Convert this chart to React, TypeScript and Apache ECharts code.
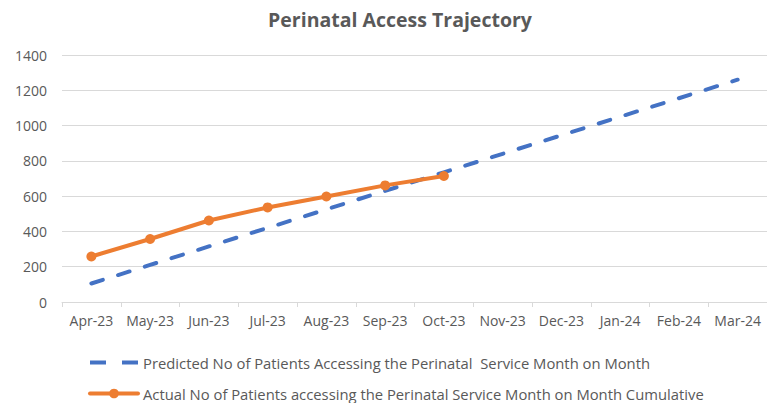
import React, { useEffect, useRef } from "react";
import * as echarts from "echarts";

const categories = ["Apr-23", "May-23", "Jun-23", "Jul-23", "Aug-23", "Sep-23", "Oct-23", "Nov-23", "Dec-23", "Jan-24", "Feb-24", "Mar-24"];
const predicted = [105, 210, 315, 420, 525, 630, 735, 840, 945, 1050, 1155, 1260];
const actual = [258, 357, 462, 536, 598, 661, 714];
const predictedName = "Predicted No of Patients Accessing the Perinatal  Service Month on Month";
const actualName = "Actual No of Patients accessing the Perinatal Service Month on Month Cumulative";
const yTicks = { min: 0, max: 1400, interval: 200 };

export default function App() {
  const ref = useRef<HTMLDivElement>(null);
  useEffect(() => {
    if (!ref.current) return;
    const chart = echarts.init(ref.current, null, { renderer: "svg" });
    const font = "Open Sans";
    const legendBase = {
      left: 88,
      padding: 0,
      itemWidth: 48,
      itemHeight: 12,
      textStyle: { fontFamily: font, fontSize: 14.8, color: "#595959" },
    };
    chart.setOption({
      animation: false,
      backgroundColor: "#ffffff",
      title: {
        text: "Perinatal Access Trajectory",
        left: 395,
        textAlign: "center",
        top: 4,
        textStyle: { fontFamily: font, fontSize: 19.5, fontWeight: "bold", color: "#595959" },
      },
      grid: { left: 62, right: 0, top: 55, bottom: 101 },
      xAxis: {
        type: "category",
        data: categories,
        boundaryGap: true,
        axisLine: { lineStyle: { color: "#d9d9d9", width: 1 } },
        axisTick: { show: true, length: 5, lineStyle: { color: "#d9d9d9" } },
        axisLabel: { fontFamily: font, fontSize: 14, color: "#595959", margin: 11, interval: 0 },
      },
      yAxis: {
        type: "value",
        min: yTicks.min,
        max: yTicks.max,
        interval: yTicks.interval,
        axisLine: { show: false },
        axisTick: { show: false },
        splitLine: { lineStyle: { color: "#d9d9d9", width: 1 } },
        axisLabel: {
          fontFamily: font,
          fontSize: 14,
          color: "#595959",
          margin: 15,
          formatter: (v: number) => String(v),
        },
      },
      legend: [
        {
          ...legendBase,
          top: 355,
          lineStyle: { width: 4, type: [16, 16], cap: "butt" },
          data: [{ name: predictedName, itemStyle: { opacity: 0 } }],
        },
        {
          ...legendBase,
          top: 386,
          lineStyle: { width: 4, cap: "round" },
          data: [actualName],
        },
      ],
      series: [
        {
          name: predictedName,
          type: "line",
          data: predicted,
          symbol: "none",
          lineStyle: { color: "#4472C4", width: 4, type: [12, 16], cap: "round" },
          itemStyle: { color: "#4472C4" },
        },
        {
          name: actualName,
          type: "line",
          data: actual,
          symbol: "circle",
          symbolSize: 10,
          lineStyle: { color: "#ED7D31", width: 4, cap: "round" },
          itemStyle: { color: "#ED7D31" },
        },
      ],
    });
    return () => chart.dispose();
  }, []);
  return <div ref={ref} style={{ position: "absolute", left: 0, top: 0, width: 767, height: 403 }} />;
}
